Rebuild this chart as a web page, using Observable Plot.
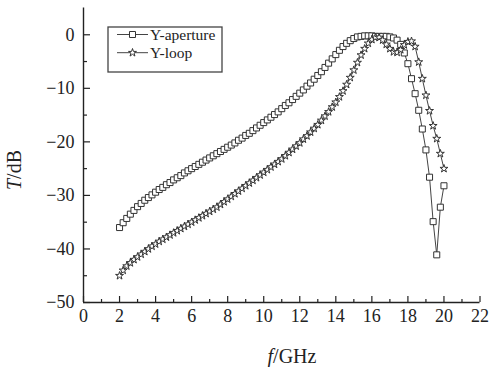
<!DOCTYPE html>
<html><head><meta charset="utf-8">
<script src="https://cdn.jsdelivr.net/npm/d3@7"></script>
<script src="https://cdn.jsdelivr.net/npm/@observablehq/plot@0.6"></script>
<style>
body{margin:0;background:#fff;}
#chart svg{font-family:"Liberation Serif","Times New Roman",serif;}
</style></head><body><div id="chart"></div>
<script>
// frequency samples (GHz)
const freqGHz = [2.0,2.2,2.4,2.6,2.8,3.0,3.2,3.4,3.6,3.8,4.0,4.2,4.4,4.6,4.8,5.0,5.2,5.4,5.6,5.8,
6.0,6.2,6.4,6.6,6.8,7.0,7.2,7.4,7.6,7.8,8.0,8.2,8.4,8.6,8.8,9.0,9.2,9.4,9.6,9.8,
10.0,10.2,10.4,10.6,10.8,11.0,11.2,11.4,11.6,11.8,12.0,12.2,12.4,12.6,12.8,13.0,13.2,13.4,13.6,13.8,
14.0,14.2,14.4,14.6,14.8,15.0,15.2,15.4,15.6,15.8,16.0,16.2,16.4,16.6,16.8,17.0,17.2,17.4,17.6,17.8,
18.0,18.2,18.4,18.6,18.8,19.0,19.2,19.4,19.6,19.8,20.0];
// Y-aperture T (dB)
const apertureT = [-36.0,-35.1,-34.3,-33.5,-32.8,-32.1,-31.5,-30.9,-30.4,-29.9,-29.4,-28.9,-28.5,-28.0,-27.6,-27.1,-26.7,-26.3,-25.8,-25.4,
-25.0,-24.6,-24.2,-23.8,-23.4,-23.0,-22.6,-22.2,-21.8,-21.4,-21.0,-20.6,-20.2,-19.7,-19.3,-18.8,-18.4,-17.9,-17.4,-16.9,
-16.4,-15.9,-15.4,-14.9,-14.4,-13.8,-13.2,-12.7,-12.1,-11.5,-10.9,-10.3,-9.6,-9.0,-8.3,-7.6,-6.9,-6.1,-5.3,-4.5,
-3.7,-2.9,-2.2,-1.6,-1.1,-0.7,-0.4,-0.3,-0.2,-0.2,-0.2,-0.3,-0.3,-0.3,-0.3,-0.4,-0.6,-1.0,-1.8,-3.4,
-5.4,-8.2,-11.0,-14.1,-17.6,-21.5,-26.6,-34.9,-41.1,-32.2,-28.2];
// Y-loop T (dB)
const loopT = [-45.0,-44.0,-43.2,-42.6,-42.0,-41.5,-41.0,-40.5,-40.0,-39.5,-39.1,-38.6,-38.2,-37.8,-37.4,-37.0,-36.6,-36.2,-35.8,-35.4,
-35.0,-34.6,-34.2,-33.8,-33.4,-33.0,-32.6,-32.2,-31.7,-31.2,-30.7,-30.2,-29.7,-29.2,-28.7,-28.2,-27.7,-27.2,-26.7,-26.2,
-25.7,-25.2,-24.7,-24.2,-23.7,-23.2,-22.6,-22.0,-21.4,-20.8,-20.2,-19.5,-18.9,-18.2,-17.5,-16.8,-16.0,-15.2,-14.4,-13.5,
-12.6,-11.6,-10.5,-9.3,-8.0,-6.6,-5.2,-3.8,-2.6,-1.6,-0.9,-0.5,-0.5,-1.0,-1.8,-2.6,-3.2,-3.3,-2.8,-1.9,
-1.3,-1.2,-2.2,-5.1,-8.2,-11.3,-14.2,-17.0,-19.4,-22.2,-25.0];

const seriesNames = ["Y-aperture", "Y-loop"];
const xMajor = [0,2,4,6,8,10,12,14,16,18,20,22];
const xMinor = [1,3,5,7,9,11,13,15,17,19,21];
const yMajor = [-50,-40,-30,-20,-10,0];
const yMinor = [-45,-35,-25,-15,-5];
const xTitle = ["f", "/GHz"];
const yTitle = ["T", "/dB"];

const rowsA = freqGHz.map((f, i) => ({f, t: apertureT[i]}));
const rowsL = freqGHz.map((f, i) => ({f, t: loopT[i]}));

const ink = "#222";
const chart = Plot.plot({
  width: 493, height: 367,
  marginLeft: 83, marginRight: 13.5, marginTop: 7.5, marginBottom: 65,
  x: {domain: [0, 22]},
  y: {domain: [-50, 5]},
  style: {fontFamily: "Liberation Serif, Times New Roman, serif", fontSize: "18px", color: ink, background: "#fff", overflow: "visible"},
  marks: [
    Plot.axisX({ticks: xMajor, tickSize: -6, tickPadding: 13, label: null, strokeWidth: 1.2, fontSize: 18}),
    Plot.axisX({ticks: xMinor, tickSize: -3, tickFormat: () => "", label: null, strokeWidth: 1.2}),
    Plot.axisY({ticks: yMajor, tickSize: -7, tickPadding: 16, label: null, strokeWidth: 1.2, fontSize: 18}),
    Plot.axisY({ticks: yMinor, tickSize: -4, tickFormat: () => "", label: null, strokeWidth: 1.2}),
    Plot.ruleX([0], {stroke: ink, strokeWidth: 1.4}),
    Plot.ruleY([-50], {stroke: ink, strokeWidth: 1.4}),
    Plot.line(rowsA, {x: "f", y: "t", stroke: "#444", strokeWidth: 1}),
    Plot.dot(rowsA, {x: "f", y: "t", symbol: "square", r: 3.4, fill: "white", stroke: "#333", strokeWidth: 1}),
    Plot.line(rowsL, {x: "f", y: "t", stroke: "#444", strokeWidth: 1}),
    Plot.dot(rowsL, {x: "f", y: "t", symbol: "star", r: 2.5, fill: "white", stroke: "#333", strokeWidth: 1})
  ]
});
document.getElementById("chart").appendChild(chart);

const svg = d3.select(chart);
const g = svg.append("g").attr("font-family", "Liberation Serif, Times New Roman, serif").attr("fill", ink);
// axis titles
const xt = g.append("text").attr("x", 292).attr("y", 363).attr("text-anchor", "middle").attr("font-size", 20);
xt.append("tspan").attr("font-style", "italic").text(xTitle[0]);
xt.append("tspan").text(xTitle[1]);
const yt = g.append("text").attr("transform", "translate(21,170) rotate(-90)").attr("text-anchor", "middle").attr("font-size", 20);
yt.append("tspan").attr("font-style", "italic").text(yTitle[0]);
yt.append("tspan").text(yTitle[1]);

// legend
const lg = svg.append("g").attr("font-family", "Liberation Serif, Times New Roman, serif").attr("text-anchor", "start");
lg.append("rect").attr("x", 108).attr("y", 27).attr("width", 114).attr("height", 45)
  .attr("fill", "white").attr("stroke", "#444").attr("stroke-width", 1.3);
const symbols = [d3.symbolSquare, d3.symbolStar];
const sizes = [Math.PI * 3.4 * 3.4, Math.PI * 2.5 * 2.5];
const rowY = [34.5, 52.7];
seriesNames.forEach((name, i) => {
  lg.append("line").attr("x1", 117).attr("x2", 148).attr("y1", rowY[i]).attr("y2", rowY[i]).attr("stroke", "#444");
  lg.append("path").attr("d", d3.symbol(symbols[i], sizes[i])()).attr("transform", `translate(132.5,${rowY[i]})`)
    .attr("fill", "white").attr("stroke", "#333");
  lg.append("text").attr("x", 150).attr("y", rowY[i] + 5).attr("font-size", 15.5).attr("fill", ink)
    .attr("text-anchor", "start").text(name);
});
</script></body></html>
